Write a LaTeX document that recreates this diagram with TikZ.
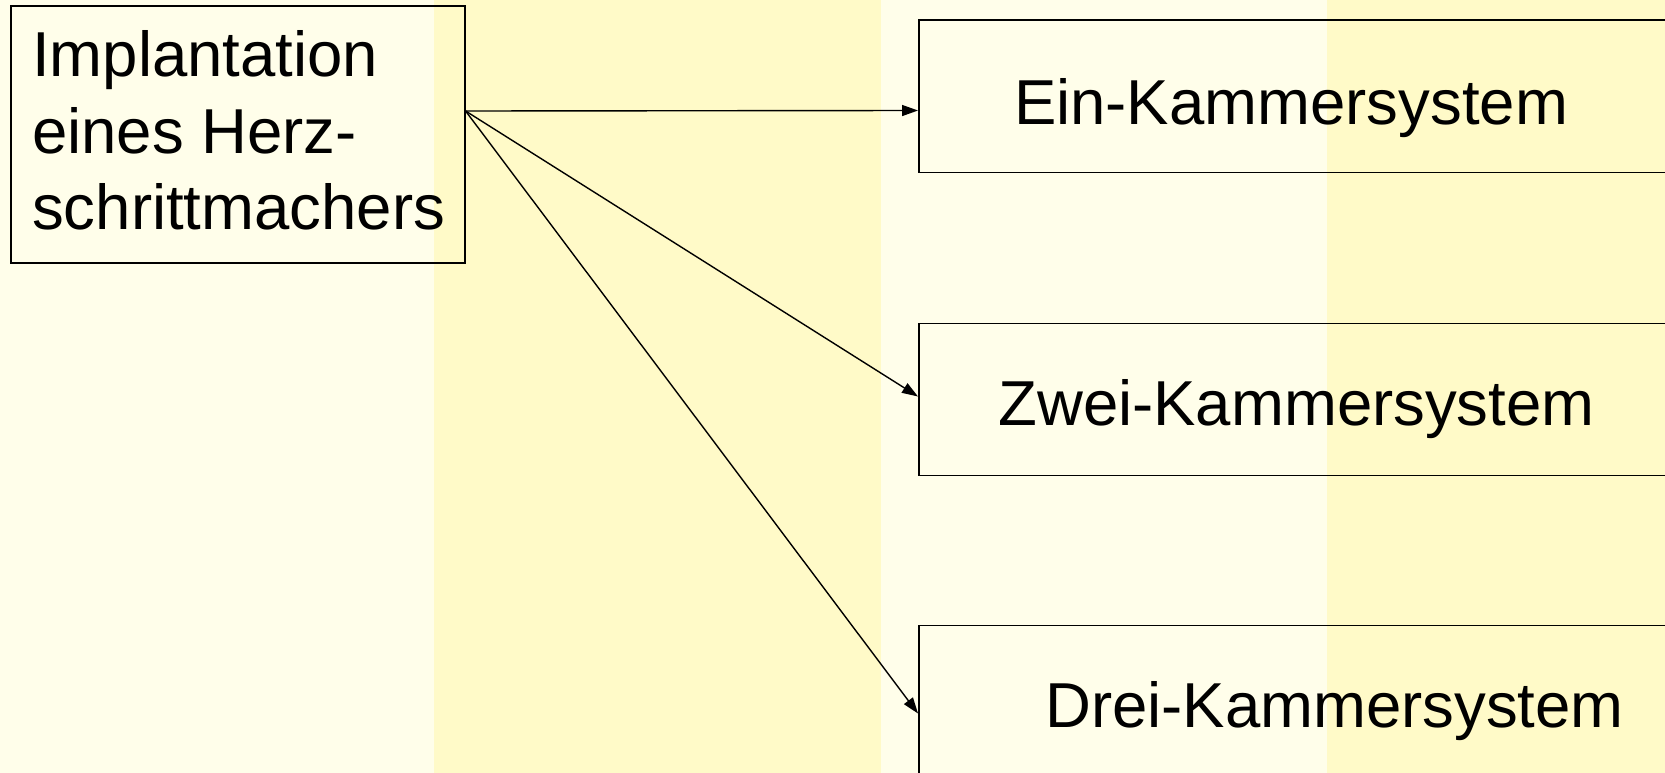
\documentclass[tikz,border=0pt]{standalone}
\usepackage{fontspec}
\setmainfont{Liberation Sans}
\usetikzlibrary{arrows.meta,calc}
\definecolor{stripeLight}{HTML}{FFFEEA}
\definecolor{stripeDark}{HTML}{FFFAC8}
\begin{document}
\begin{tikzpicture}[x=1bp,y=-1bp,
  box/.style={draw=black, line width=1.6bp, rectangle, inner sep=0pt},
  label/.style={font=\fontsize{63.5bp}{76bp}\selectfont, inner sep=0pt},
  conn/.style={line width=1.4bp, -{Triangle[length=16bp,width=11bp]}}]
\useasboundingbox (0,0) rectangle (1665,773);
\clip (0,0) rectangle (1665,773);
% background stripes
\fill[stripeLight] (0,0) rectangle (434,773);
\fill[stripeDark] (434,0) rectangle (881,773);
\fill[stripeLight] (881,0) rectangle (1327,773);
\fill[stripeDark] (1327,0) rectangle (1665,773);

% source box (the base anchor of the three-line text is its last baseline)
\node[box, anchor=north west, minimum width=454bp, minimum height=257bp] (impl) at (10,5) {};
\node[label, anchor=base west, align=left] (impltext) at (32,229) {Implantation\\eines Herz-\\schrittmachers};

% target boxes
\node[box, anchor=north west, minimum width=800bp, minimum height=152bp] (ein) at (918,19.5) {};
\node[label, anchor=base] (eintext) at (1291,124) {Ein-Kammersystem};
\node[box, anchor=north west, minimum width=800bp, minimum height=152bp] (zwei) at (918,322.5) {};
\node[label, anchor=base] (zweitext) at (1296.5,425.5) {Zwei-Kammersystem};
\node[box, anchor=north west, minimum width=800bp, minimum height=152bp] (drei) at (918,624.5) {};
\node[label, anchor=base] (dreitext) at (1334.5,727) {Drei-Kammersystem};

% connectors
\coordinate (src) at ($(impl.north east)+(0,106)$);
\draw[conn] (src) -- ($(ein.north west)+(0,91)$);
\draw[conn] (src) -- ($(zwei.north west)+(0,74)$);
\draw[conn] (src) -- ($(drei.north west)+(0,89)$);
\end{tikzpicture}
\end{document}
